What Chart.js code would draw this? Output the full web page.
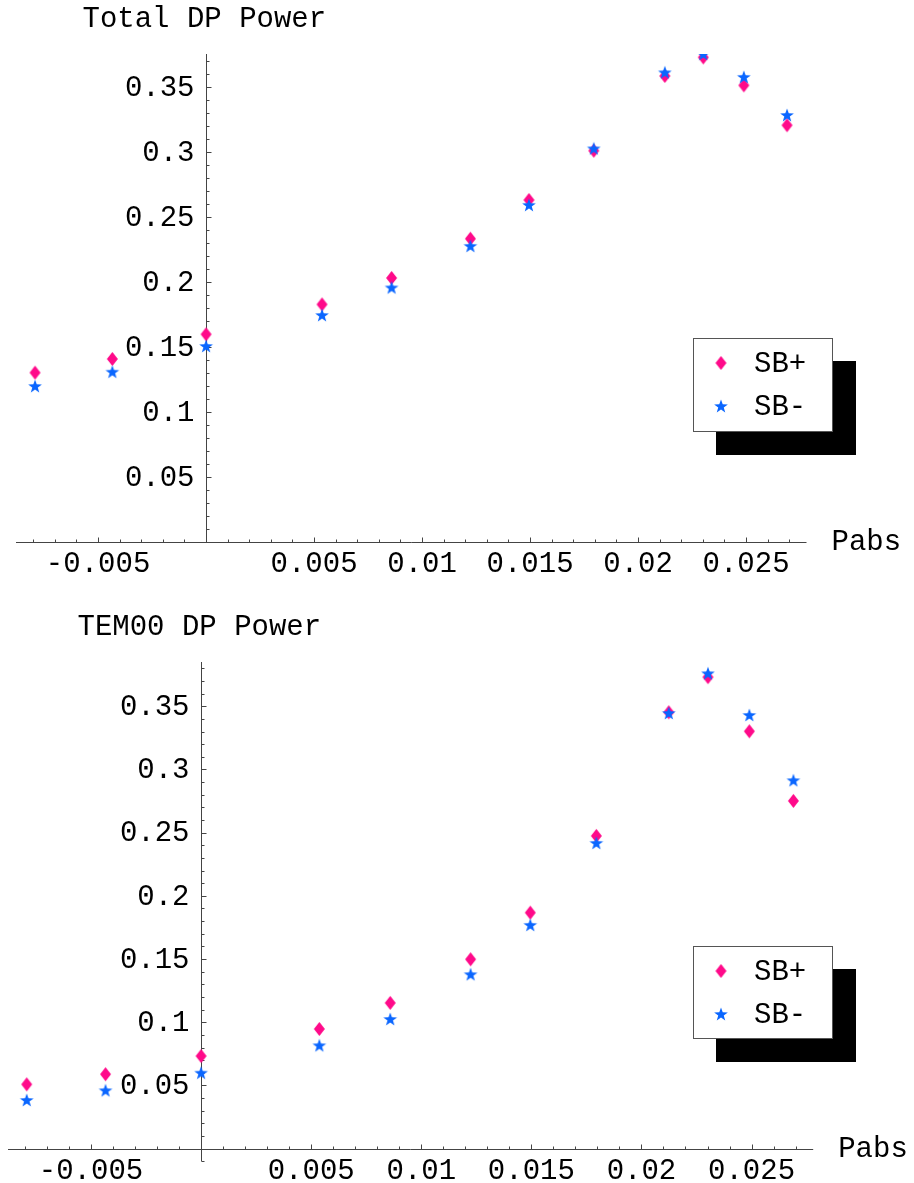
<!DOCTYPE html>
<html><head><meta charset="utf-8">
<script src="https://cdn.jsdelivr.net/npm/chart.js@4"></script>
<style>html,body{margin:0;padding:0;background:#fff;overflow:hidden;} canvas{display:block;position:absolute;left:0;}</style>
</head><body>
<canvas id="c1" width="914" height="595" style="top:0"></canvas>
<canvas id="c2" width="914" height="588" style="top:595px"></canvas>
<script>
// ---- data ----
const pabs = [-0.00792, -0.00434, 0, 0.00537, 0.00859, 0.01224, 0.01495, 0.01795, 0.02124, 0.02302, 0.0249, 0.0269];
const totalSBplus  = [0.1305, 0.141, 0.160, 0.183, 0.2033, 0.2335, 0.2633, 0.3012, 0.3587, 0.373, 0.3515, 0.3208];
const totalSBminus = [0.1202, 0.1312, 0.151, 0.1748, 0.196, 0.228, 0.2595, 0.303, 0.3615, 0.3756, 0.358, 0.3287];
const temSBplus    = [0.0509, 0.0589, 0.0733, 0.0947, 0.1153, 0.1498, 0.1867, 0.2474, 0.3452, 0.373, 0.3302, 0.2751];
const temSBminus   = [0.0385, 0.0462, 0.0601, 0.0818, 0.1026, 0.138, 0.177, 0.2419, 0.3447, 0.3761, 0.3431, 0.2915];
const xTickValues = [-0.005, 0.005, 0.01, 0.015, 0.02, 0.025];
const xTickLabels = ['-0.005', '0.005', '0.01', '0.015', '0.02', '0.025'];
const yTickValues = [0.05, 0.1, 0.15, 0.2, 0.25, 0.3, 0.35];
const yTickLabels = ['0.05', '0.1', '0.15', '0.2', '0.25', '0.3', '0.35'];
const seriesNames = ['SB+', 'SB-'];
const titles = ['Total DP Power', 'TEM00 DP Power'];
const xAxisLabel = 'Pabs';

// ---- styles ----
const PINK = '#ff0a8a';
const BLUE = '#0a66ff';
const FONT = '29px "Liberation Mono", "Courier New", monospace';
const AXIS = '#444';

function makeDiamond(color) {
  const c = document.createElement('canvas'); c.width = 13; c.height = 16;
  const g = c.getContext('2d'); g.fillStyle = color;
  g.beginPath(); g.moveTo(6.5, 1); g.lineTo(12, 8); g.lineTo(6.5, 15); g.lineTo(1, 8); g.closePath(); g.fill();
  return c;
}
function makeStar(color) {
  const c = document.createElement('canvas'); c.width = 16; c.height = 16;
  const g = c.getContext('2d'); g.fillStyle = color;
  const cx = 8, cy = 8.6, R = 7.2, r = 2.9;
  g.beginPath();
  for (let k = 0; k < 10; k++) {
    const a = -Math.PI / 2 + k * Math.PI / 5;
    const rad = k % 2 ? r : R;
    const px = cx + rad * Math.cos(a), py = cy + rad * Math.sin(a);
    if (k === 0) g.moveTo(px, py); else g.lineTo(px, py);
  }
  g.closePath(); g.fill();
  return c;
}
const diamondImg = makeDiamond(PINK);
const starImg = makeStar(BLUE);

const mmaPlugin = {
  id: 'mma',
  beforeDatasetsDraw(chart, args, o) {
    const ctx = chart.ctx, xs = chart.scales.x, ys = chart.scales.y, ca = chart.chartArea;
    const x0 = Math.round(xs.getPixelForValue(0)) + 0.5;
    const y0 = Math.round(ys.getPixelForValue(0)) + 0.5;
    ctx.save();
    ctx.strokeStyle = AXIS; ctx.lineWidth = 1;
    ctx.beginPath();
    ctx.moveTo(ca.left, y0); ctx.lineTo(ca.right, y0);
    ctx.moveTo(x0, ca.top); ctx.lineTo(x0, ca.bottom);
    for (let i = Math.ceil(xs.min / 0.001); i <= Math.floor(xs.max / 0.001); i++) {
      if (i === 0) continue;
      const px = Math.round(xs.getPixelForValue(i * 0.001)) + 0.5;
      const len = (i % 5 === 0) ? 5 : 3;
      ctx.moveTo(px, y0); ctx.lineTo(px, y0 - len);
    }
    for (let i = Math.ceil(ys.min / 0.01 - 1e-9); i <= Math.floor(ys.max / 0.01 + 1e-9); i++) {
      if (i === 0) continue;
      const py = Math.round(ys.getPixelForValue(i * 0.01)) + 0.5;
      const len = (i % 5 === 0) ? 5 : 3;
      ctx.moveTo(x0, py); ctx.lineTo(x0 + len, py);
    }
    ctx.stroke();
    ctx.fillStyle = '#000';
    ctx.font = FONT;
    ctx.textAlign = 'center'; ctx.textBaseline = 'alphabetic';
    xTickValues.forEach((v, i) => ctx.fillText(xTickLabels[i], xs.getPixelForValue(v), y0 + 29));
    ctx.textAlign = 'right'; ctx.textBaseline = 'middle';
    yTickValues.forEach((v, i) => ctx.fillText(yTickLabels[i], x0 - 12, ys.getPixelForValue(v) + 1));
    ctx.textAlign = 'left'; ctx.textBaseline = 'alphabetic';
    ctx.fillText(xAxisLabel, ca.right + 25, y0 + 7);
    ctx.fillText(o.title, x0 - 124, ca.top - 27);
    ctx.restore();
  },
  afterDraw(chart, args, o) {
    const ctx = chart.ctx;
    const L = o.legend;
    ctx.save();
    ctx.fillStyle = '#000';
    ctx.fillRect(L.x + 23, L.y + 23, L.w, L.h);
    ctx.fillStyle = '#fff';
    ctx.fillRect(L.x, L.y, L.w, L.h);
    ctx.strokeStyle = '#555'; ctx.lineWidth = 1;
    ctx.strokeRect(L.x + 0.5, L.y + 0.5, L.w - 1, L.h - 1);
    ctx.font = FONT; ctx.fillStyle = '#000'; ctx.textAlign = 'left'; ctx.textBaseline = 'middle';
    chart.data.datasets.slice().sort((a, b) => a.legendIndex - b.legendIndex).forEach((ds, i) => {
      const cy = L.y + 25 + i * 43;
      const img = ds.pointStyle;
      ctx.drawImage(img, L.x + 28 - img.width / 2, cy - img.height / 2);
      ctx.fillText(ds.label, L.x + 61, cy + 1);
    });
    ctx.restore();
  }
};

function makeChart(id, plus, minus, xr, yr, pad, title, legend) {
  return new Chart(document.getElementById(id), {
    type: 'scatter',
    data: {
      datasets: [
        { label: seriesNames[0], legendIndex: 0, order: 1, data: pabs.map((x, i) => ({ x, y: plus[i] })),
          pointStyle: diamondImg, pointRadius: 7, clip: 0 },
        { label: seriesNames[1], legendIndex: 1, order: 0, data: pabs.map((x, i) => ({ x, y: minus[i] })),
          pointStyle: starImg, pointRadius: 7, clip: 0 }
      ]
    },
    options: {
      responsive: false, animation: false, devicePixelRatio: 1,
      layout: { padding: pad },
      scales: {
        x: { type: 'linear', min: xr[0], max: xr[1], display: false },
        y: { type: 'linear', min: yr[0], max: yr[1], display: false }
      },
      plugins: { legend: { display: false }, tooltip: { enabled: false },
        mma: { title, legend } }
    },
    plugins: [mmaPlugin]
  });
}

makeChart('c1', totalSBplus, totalSBminus, [-0.0088, 0.0278], [0, 0.3756],
  { left: 16, right: 107.5, top: 54, bottom: 52.7 }, titles[0], { x: 693, y: 338, w: 140, h: 94 });
makeChart('c2', temSBplus, temSBminus, [-0.00877, 0.0278], [-0.01, 0.385],
  { left: 7.2, right: 100.8, top: 67, bottom: 21.7 }, titles[1], { x: 693, y: 351, w: 140, h: 93 });
</script>
</body></html>
